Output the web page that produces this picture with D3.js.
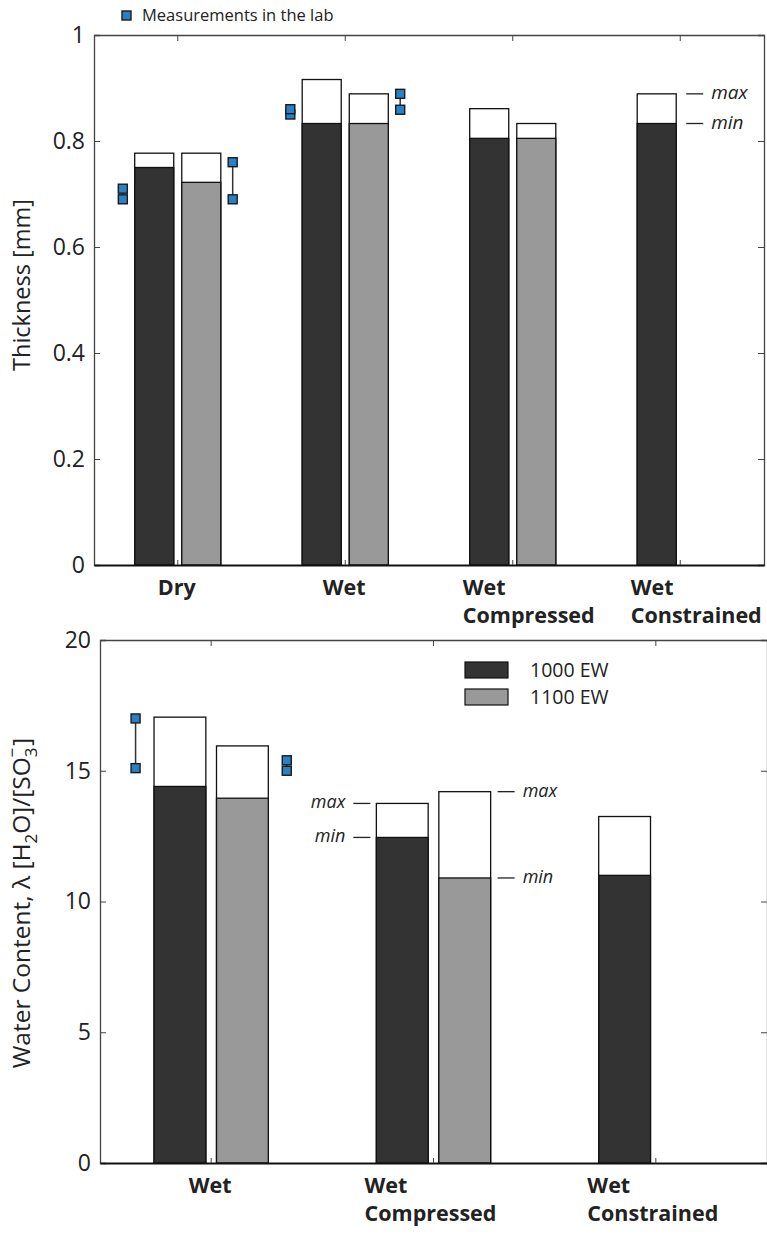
<!DOCTYPE html>
<html>
<head>
<meta charset="utf-8">
<script src="https://cdn.jsdelivr.net/npm/d3@7"></script>
<style>
  body { margin: 0; background: #fff; }
  svg { display: block; font-family: 'Open Sans', sans-serif; }
</style>
</head>
<body>
<svg width="767" height="1234"></svg>
<script>
// ---- thickness panel data ----
const thickCategories = ['Dry', 'Wet', 'Wet\nCompressed', 'Wet\nConstrained'];
const thickMin1000 = [0.750, 0.833, 0.805, 0.833];
const thickMax1000 = [0.777, 0.916, 0.861, 0.889];
const thickMin1100 = [0.722, 0.833, 0.805, null];
const thickMax1100 = [0.777, 0.889, 0.833, null];
const thickTicks = [0, 0.2, 0.4, 0.6, 0.8, 1];

// lab measurements (low / high) next to the bars
const thickLabCategories = ['Dry', 'Wet'];
const thickLab1000Low = [0.690, 0.850];
const thickLab1000High = [0.710, 0.860];
const thickLab1100Low = [0.690, 0.859];
const thickLab1100High = [0.760, 0.889];

// ---- water content panel data ----
const waterCategories = ['Wet', 'Wet\nCompressed', 'Wet\nConstrained'];
const waterMin1000 = [14.4, 12.45, 11.0];
const waterMax1000 = [17.05, 13.75, 13.25];
const waterMin1100 = [13.95, 10.9, null];
const waterMax1100 = [15.95, 14.2, null];
const waterTicks = [0, 5, 10, 15, 20];

const waterLabCategories = ['Wet'];
const waterLab1000Low = [15.1];
const waterLab1000High = [17.0];
const waterLab1100Low = [15.0];
const waterLab1100High = [15.4];

const seriesNames = ['1000 EW', '1100 EW'];

const colorDark = '#333333';
const colorGray = '#999999';
const colorLab = '#2a80c4';
const axisColor = '#444';
const fontBig = 23;

const svg = d3.select('svg');

function drawPanel(p) {
	const g = svg.append('g');
	const x = d3.scaleBand()
		.domain(p.categories)
		.range([p.left, p.right])
		.padding(0);
	const y = d3.scaleLinear()
		.domain([0, p.yMax])
		.range([p.bottom, p.top]);
	const bw = x.bandwidth();
	const center = (c) => x(c) + bw / 2;
	const barW = 0.233 * bw;

	// box / axes
	g.append('g')
		.attr('transform', `translate(${p.left},0)`)
		.call(d3.axisLeft(y).tickValues(p.ticks).tickSize(-6).tickPadding(9)
			.tickFormat(d3.format('~g')))
		.call((a) => {
			a.select('.domain').attr('stroke', axisColor).attr('stroke-width', 1.3);
			a.selectAll('.tick line').attr('stroke', axisColor);
			a.selectAll('.tick text')
				.attr('font-size', fontBig)
				.attr('font-family', 'Open Sans')
				.attr('fill', '#222');
		});
	g.append('g')
		.attr('transform', `translate(${p.right},0)`)
		.call(d3.axisRight(y).tickValues(p.ticks).tickSize(-6).tickFormat(''))
		.call((a) => {
			a.select('.domain').attr('stroke', axisColor).attr('stroke-width', 1.3);
			a.selectAll('.tick line').attr('stroke', axisColor);
		});
	g.append('g')
		.attr('transform', `translate(0,${p.top})`)
		.call(d3.axisTop(x).tickSize(-6).tickSizeOuter(0).tickFormat(''))
		.call((a) => {
			a.select('.domain').attr('stroke', axisColor).attr('stroke-width', 1.3);
			a.selectAll('.tick line').attr('stroke', axisColor);
		});

	// bars: white box up to max, filled box up to min
	const series = [
		{ mins: p.min1000, maxs: p.max1000, fill: colorDark, off: -0.257 * bw },
		{ mins: p.min1100, maxs: p.max1100, fill: colorGray, off: 0.024 * bw },
	];
	series.forEach((s) => {
		const rows = p.categories
			.map((c, i) => ({ c, lo: s.mins[i], hi: s.maxs[i] }))
			.filter((d) => d.lo !== null);
		const bars = g.append('g').selectAll('g')
			.data(rows)
			.enter()
				.append('g');
		bars.append('rect')
			.attr('x', (d) => center(d.c) + s.off)
			.attr('y', (d) => y(d.hi))
			.attr('width', barW)
			.attr('height', (d) => y(0) - y(d.hi))
			.attr('fill', '#fff')
			.attr('stroke', '#111')
			.attr('stroke-width', 1.3);
		bars.append('rect')
			.attr('x', (d) => center(d.c) + s.off)
			.attr('y', (d) => y(d.lo))
			.attr('width', barW)
			.attr('height', (d) => y(0) - y(d.lo))
			.attr('fill', s.fill)
			.attr('stroke', '#111')
			.attr('stroke-width', 1.3);
	});

	// bottom axis drawn on top of bars
	g.append('g')
		.attr('transform', `translate(0,${p.bottom})`)
		.call(d3.axisBottom(x).tickSize(-5).tickSizeOuter(0).tickFormat(''))
		.call((a) => {
			a.select('.domain').attr('stroke', '#111').attr('stroke-width', 2);
			a.selectAll('.tick line').attr('stroke', axisColor);
		});

	// lab measurements
	const lab = [
		{ lo: p.labLow1000, hi: p.labHigh1000, off: -p.labOff * bw },
		{ lo: p.labLow1100, hi: p.labHigh1100, off: p.labOff * bw },
	];
	lab.forEach((s) => {
		p.labCategories.forEach((c, i) => {
			const cx = center(c) + s.off;
			g.append('line')
				.attr('x1', cx).attr('x2', cx)
				.attr('y1', y(s.lo[i])).attr('y2', y(s.hi[i]))
				.attr('stroke', '#333')
				.attr('stroke-width', 1.5);
			[s.lo[i], s.hi[i]].forEach((v) => {
				g.append('rect')
					.attr('x', cx - 4.5)
					.attr('y', y(v) - 4.5)
					.attr('width', 9)
					.attr('height', 9)
					.attr('fill', colorLab)
					.attr('stroke', '#1a1a1a')
					.attr('stroke-width', 1.4);
			});
		});
	});

	// category labels
	p.categories.forEach((c) => {
		const lines = c.split('\n');
		const t = g.append('text')
			.attr('font-weight', 'bold')
			.attr('font-size', 21.5)
			.attr('fill', '#222')
			.attr('y', p.bottom + 30);
		lines.forEach((ln, i) => {
			t.append('tspan')
				.attr('x', 0)
				.attr('dy', i ? 28 : 0)
				.text(ln);
		});
		if (lines.length === 1) {
			t.attr('text-anchor', 'middle');
			t.selectAll('tspan').attr('x', center(c) - 1);
		} else {
			const w = t.node().getBBox().width;
			t.selectAll('tspan').attr('x', center(c) - w / 2 + p.labelShift);
		}
	});

	// y title
	const title = g.append('text')
		.attr('transform', `translate(${p.titleX},${p.titleY}) rotate(-90)`)
		.attr('text-anchor', 'middle')
		.attr('font-size', p.titleSize)
		.attr('fill', '#222');
	p.title(title);

	return { g, x, y, center, bw, barW };
}

function minMaxNote(g, xLine, yv, side, fs) {
	// side = 1: line then text to the right, side = -1: text to the left
	const len = 17;
	g.append('line')
		.attr('x1', xLine).attr('x2', xLine + side * len)
		.attr('y1', yv).attr('y2', yv)
		.attr('stroke', '#222')
		.attr('stroke-width', 1.3);
	return (label) => g.append('text')
		.attr('x', xLine + side * (len + 8))
		.attr('y', yv + 5)
		.attr('text-anchor', side > 0 ? 'start' : 'end')
		.attr('font-style', 'italic')
		.attr('font-size', fs)
		.attr('fill', '#222')
		.text(label);
}

// ---- top panel ----
const thickPanel = drawPanel({
	categories: thickCategories,
	left: 94, right: 764, top: 35, bottom: 565,
	yMax: 1, ticks: thickTicks,
	min1000: thickMin1000, max1000: thickMax1000,
	min1100: thickMin1100, max1100: thickMax1100,
	labCategories: thickLabCategories,
	labLow1000: thickLab1000Low, labHigh1000: thickLab1000High,
	labLow1100: thickLab1100Low, labHigh1100: thickLab1100High,
	labOff: 0.328,
	labelShift: 16,
	titleX: 30, titleY: 285, titleSize: 23.5,
	title: (t) => t.text('Thickness [mm]'),
});

// notes on the wet constrained bar
{
	const c = thickCategories[3];
	const xr = thickPanel.center(c) - 0.257 * thickPanel.bw + thickPanel.barW + 10;
	minMaxNote(thickPanel.g, xr, thickPanel.y(thickMax1000[3]), 1, 19)('max');
	minMaxNote(thickPanel.g, xr, thickPanel.y(thickMin1000[3]), 1, 19)('min');
}

// top legend
svg.append('rect')
	.attr('x', 122).attr('y', 11).attr('width', 9).attr('height', 9)
	.attr('fill', colorLab).attr('stroke', '#1a1a1a').attr('stroke-width', 1.4);
svg.append('text')
	.attr('x', 142).attr('y', 21)
	.attr('font-size', 16.5)
	.attr('fill', '#222')
	.text('Measurements in the lab');

// ---- bottom panel ----
const waterPanel = drawPanel({
	categories: waterCategories,
	left: 100, right: 767, top: 640, bottom: 1163,
	yMax: 20, ticks: waterTicks,
	min1000: waterMin1000, max1000: waterMax1000,
	min1100: waterMin1100, max1100: waterMax1100,
	labCategories: waterLabCategories,
	labLow1000: waterLab1000Low, labHigh1000: waterLab1000High,
	labLow1100: waterLab1100Low, labHigh1100: waterLab1100High,
	labOff: 0.34,
	labelShift: -3,
	titleX: 30, titleY: 903, titleSize: 24.5,
	title: (t) => {
		t.append('tspan').text('Water Content, λ [H');
		t.append('tspan').attr('font-size', 17).attr('dy', 7).text('2');
		t.append('tspan').attr('dy', -7).text('O]/[SO');
		t.append('tspan').attr('font-size', 17).attr('dy', 7).text('3');
		t.append('tspan').attr('font-size', 17).attr('dx', -10).attr('dy', -19).text('−');
		t.append('tspan').attr('dy', 12).attr('dx', 2).text(']');
	},
});

{
	const c = waterCategories[1];
	const xl = waterPanel.center(c) - 0.257 * waterPanel.bw - 6;
	minMaxNote(waterPanel.g, xl, waterPanel.y(waterMax1000[1]), -1, 18)('max');
	minMaxNote(waterPanel.g, xl, waterPanel.y(waterMin1000[1]), -1, 18)('min');
	const xr = waterPanel.center(c) + 0.024 * waterPanel.bw + waterPanel.barW + 7;
	minMaxNote(waterPanel.g, xr, waterPanel.y(waterMax1100[1]), 1, 18)('max');
	minMaxNote(waterPanel.g, xr, waterPanel.y(waterMin1100[1]), 1, 18)('min');
}

// legend for the series
const legend = svg.append('g').attr('transform', 'translate(465,662)');
[colorDark, colorGray].forEach((col, i) => {
	legend.append('rect')
		.attr('x', 0).attr('y', i * 27)
		.attr('width', 43).attr('height', 16)
		.attr('fill', col)
		.attr('stroke', '#111')
		.attr('stroke-width', 1.2);
	legend.append('text')
		.attr('x', 65).attr('y', i * 27 + 15)
		.attr('font-size', 19.5)
		.attr('fill', '#222')
		.text(seriesNames[i]);
});
</script>
</body>
</html>
